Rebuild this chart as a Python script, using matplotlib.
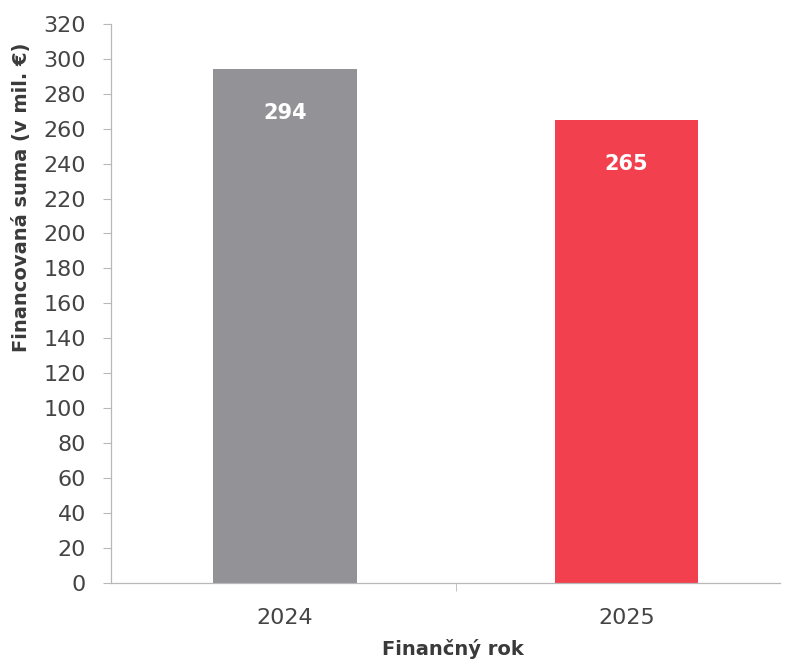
import matplotlib.pyplot as plt

# data
roky = ['2024', '2025']
sumy = [294, 265]
farby = ['#939397', '#f2404e']
yticks = list(range(0, 321, 20))

fig = plt.figure(figsize=(7.92, 6.61), dpi=100)
ax = fig.add_axes([0.140, 0.118, 0.845, 0.846])

x = range(len(roky))
bars = ax.bar(x, sumy, width=0.42, color=farby, zorder=2)

# value labels inside the bars, near the top
for b, v in zip(bars, sumy):
    ax.text(b.get_x() + b.get_width() / 2, v - 25, str(v),
            ha='center', va='center', color='white',
            fontsize=15, fontweight='bold')

ax.set_xlim(-0.51, 1.45)
ax.set_ylim(0, 320)
ax.set_yticks(yticks)
ax.set_xticks(list(x))
ax.set_xticklabels(roky)
ax.set_xticks([0.5], minor=True)

for s in ['top', 'right']:
    ax.spines[s].set_visible(False)
for s in ['left', 'bottom']:
    ax.spines[s].set_color('#b8b8b8')
    ax.spines[s].set_linewidth(0.9)

ax.tick_params(axis='y', colors='#b8b8b8', labelcolor='#444444',
               labelsize=16, length=6, pad=12)
ax.tick_params(axis='x', which='major', length=0, labelcolor='#444444',
               labelsize=16, pad=18)
ax.tick_params(axis='x', which='minor', length=6, color='#b8b8b8')

ax.set_ylabel('Financovaná suma (v mil. €)', fontsize=14,
              fontweight='heavy', color='#3a3a3a')
ax.set_xlabel('Finančný rok', fontsize=14, fontweight='heavy',
              color='#3a3a3a')
# the titles are not centred on the axes in the original
ax.yaxis.set_label_coords(-0.12, 0.689)
ax.xaxis.set_label_coords(0.511, -0.1)

fig.savefig('out.png', dpi=100)
